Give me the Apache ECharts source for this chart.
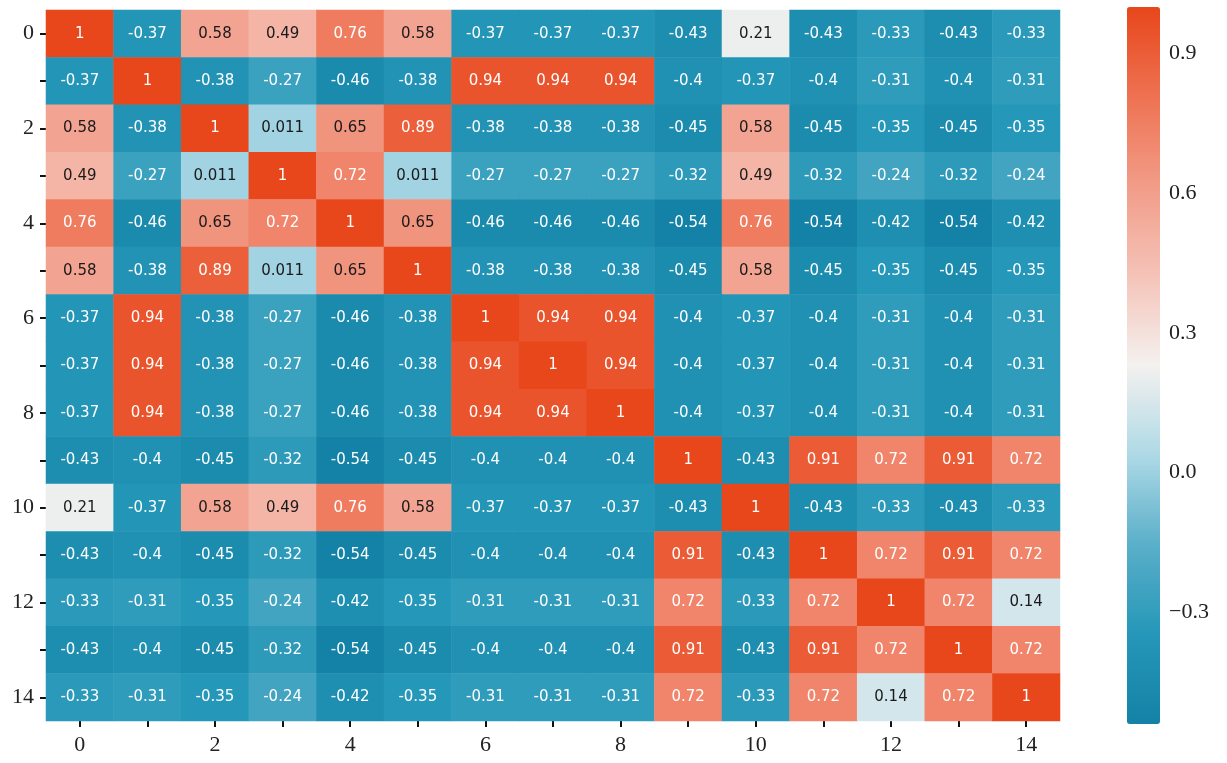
<!DOCTYPE html>
<html>
<head>
<meta charset="utf-8">
<script src="https://cdn.jsdelivr.net/npm/echarts@6/dist/echarts.min.js"></script>
<style>
    html, body { margin: 0; padding: 0; background: #fff; }
    #heatmap { width: 1227px; height: 763px; }
</style>
</head>
<body>
<!-- correlation heatmap container -->
<div id="heatmap"></div>
<script>
// row / column labels
const labels = ['0', '1', '2', '3', '4', '5', '6', '7', '8', '9', '10', '11', '12', '13', '14']

// correlation matrix
const corr = [
    [1, -0.37, 0.58, 0.49, 0.76, 0.58, -0.37, -0.37, -0.37, -0.43, 0.21, -0.43, -0.33, -0.43, -0.33],
    [-0.37, 1, -0.38, -0.27, -0.46, -0.38, 0.94, 0.94, 0.94, -0.4, -0.37, -0.4, -0.31, -0.4, -0.31],
    [0.58, -0.38, 1, 0.011, 0.65, 0.89, -0.38, -0.38, -0.38, -0.45, 0.58, -0.45, -0.35, -0.45, -0.35],
    [0.49, -0.27, 0.011, 1, 0.72, 0.011, -0.27, -0.27, -0.27, -0.32, 0.49, -0.32, -0.24, -0.32, -0.24],
    [0.76, -0.46, 0.65, 0.72, 1, 0.65, -0.46, -0.46, -0.46, -0.54, 0.76, -0.54, -0.42, -0.54, -0.42],
    [0.58, -0.38, 0.89, 0.011, 0.65, 1, -0.38, -0.38, -0.38, -0.45, 0.58, -0.45, -0.35, -0.45, -0.35],
    [-0.37, 0.94, -0.38, -0.27, -0.46, -0.38, 1, 0.94, 0.94, -0.4, -0.37, -0.4, -0.31, -0.4, -0.31],
    [-0.37, 0.94, -0.38, -0.27, -0.46, -0.38, 0.94, 1, 0.94, -0.4, -0.37, -0.4, -0.31, -0.4, -0.31],
    [-0.37, 0.94, -0.38, -0.27, -0.46, -0.38, 0.94, 0.94, 1, -0.4, -0.37, -0.4, -0.31, -0.4, -0.31],
    [-0.43, -0.4, -0.45, -0.32, -0.54, -0.45, -0.4, -0.4, -0.4, 1, -0.43, 0.91, 0.72, 0.91, 0.72],
    [0.21, -0.37, 0.58, 0.49, 0.76, 0.58, -0.37, -0.37, -0.37, -0.43, 1, -0.43, -0.33, -0.43, -0.33],
    [-0.43, -0.4, -0.45, -0.32, -0.54, -0.45, -0.4, -0.4, -0.4, 0.91, -0.43, 1, 0.72, 0.91, 0.72],
    [-0.33, -0.31, -0.35, -0.24, -0.42, -0.35, -0.31, -0.31, -0.31, 0.72, -0.33, 0.72, 1, 0.72, 0.14],
    [-0.43, -0.4, -0.45, -0.32, -0.54, -0.45, -0.4, -0.4, -0.4, 0.91, -0.43, 0.91, 0.72, 1, 0.72],
    [-0.33, -0.31, -0.35, -0.24, -0.42, -0.35, -0.31, -0.31, -0.31, 0.72, -0.33, 0.72, 0.14, 0.72, 1]
]

// colour bar range and ticks
const barMin = -0.54
const barMax = 1
const barTicks = [-0.3, 0, 0.3, 0.6, 0.9]

const palette = ['#1482a6', '#2597b8', '#5aafc9', '#aed9e6', '#f4f1ef', '#f5c3b8', '#f29c88', '#ee7252', '#e8461b']
const serif = '"Liberation Serif", "DejaVu Serif", serif'

function initHeatmap() {
    var chartDom = document.getElementById('heatmap');
    var myChart = echarts.init(chartDom);

    // [x, y, value] triples; pale cells get dark text
    const cells = []
    corr.forEach((row, y) => row.forEach((v, x) => {
        if (v > -0.1 && v < 0.7) {
            cells.push({ value: [x, y, v], label: { color: '#1a1a1a' } })
        } else {
            cells.push([x, y, v])
        }
    }))

    const tickStyle = { show: true, length: 6, lineStyle: { color: '#111', width: 2 } }

    const option = {
        animation: false,
        grid: [
            { left: 46, top: 10, width: 1014, height: 711 },
            { left: 1127, top: 7, width: 33, height: 717 }
        ],
        xAxis: [
            {
                type: 'category',
                data: labels,
                gridIndex: 0,
                axisLine: { show: false },
                axisTick: Object.assign({ alignWithLabel: true, interval: 0 }, tickStyle),
                axisLabel: { interval: 1, color: '#222', fontFamily: serif, fontSize: 22, margin: 13 },
                splitLine: { show: false }
            },
            { type: 'value', gridIndex: 1, show: false }
        ],
        yAxis: [
            {
                type: 'category',
                data: labels,
                inverse: true,
                gridIndex: 0,
                axisLine: { show: false },
                axisTick: Object.assign({ alignWithLabel: true, interval: 0 }, tickStyle),
                axisLabel: { interval: 1, color: '#222', fontFamily: serif, fontSize: 22, margin: 12 },
                splitLine: { show: false }
            },
            {
                // colour bar scale
                type: 'value',
                gridIndex: 1,
                min: barMin,
                max: barMax,
                position: 'right',
                axisLine: { show: false },
                splitLine: { show: false },
                axisTick: Object.assign({ customValues: barTicks }, tickStyle),
                axisLabel: {
                    customValues: barTicks,
                    margin: 9,
                    color: '#222',
                    fontFamily: serif,
                    fontSize: 22,
                    formatter: v => (v < 0 ? '\u2212' : '') + Math.abs(v).toFixed(1)
                }
            }
        ],
        visualMap: {
            type: 'continuous',
            min: barMin,
            max: barMax,
            calculable: false,
            seriesIndex: 0,
            orient: 'vertical',
            left: 1127,
            top: 7,
            padding: 0,
            itemWidth: 33,
            itemHeight: 717,
            inRange: { color: palette }
        },
        series: [
            {
                type: 'heatmap',
                xAxisIndex: 0,
                yAxisIndex: 0,
                data: cells,
                label: {
                    show: true,
                    fontFamily: '"DejaVu Sans", sans-serif',
                    fontSize: 15,
                    formatter: p => String(p.value[2]),
                    color: '#fff'
                },
                itemStyle: { borderWidth: 0 }
            }
        ]
    };

    option && myChart.setOption(option);
}

initHeatmap()
</script>
</body>
</html>
